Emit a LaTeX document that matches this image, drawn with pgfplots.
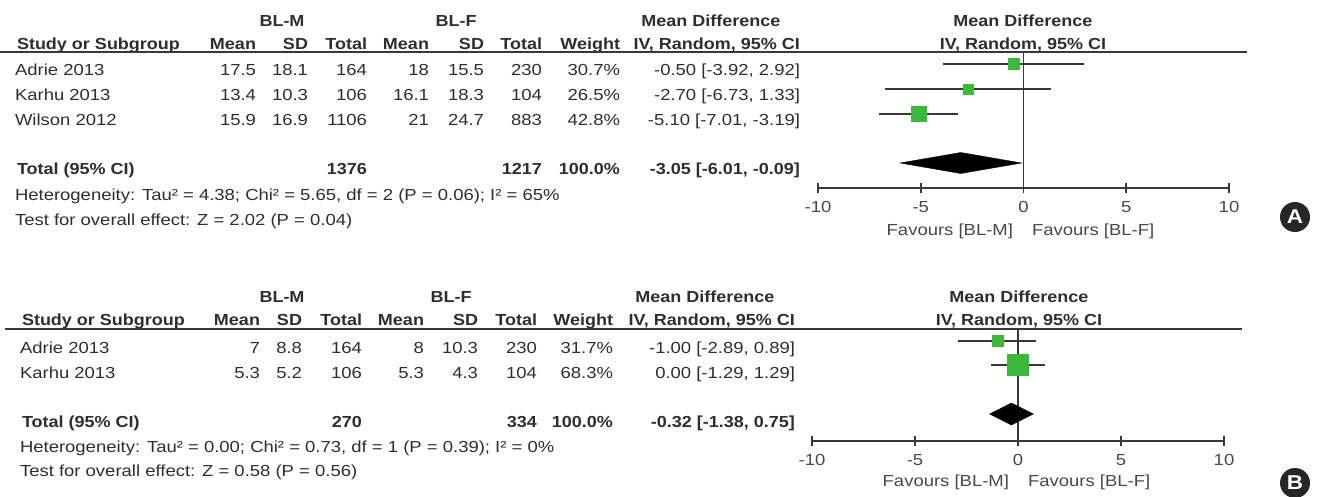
\documentclass[border=0pt]{standalone}
\usepackage{pgfplots}
\pgfplotsset{compat=1.18}
\usepackage{fontspec}
\setmainfont{Liberation Sans}[FakeStretch=1.155, BoldFeatures={FakeStretch=1.125}]
\definecolor{txt}{HTML}{2E2E2E}
\definecolor{labc}{HTML}{484848}
\definecolor{axc}{HTML}{383838}
\definecolor{grn}{HTML}{3CB93C}
\newcommand\tf{\fontsize{16}{19}\selectfont}
\tikzset{t/.style={inner sep=0pt, outer sep=0pt, text=txt, font=\tf},
  cil/.style={draw=axc, line width=1.6pt, mark=none},
  zl/.style={draw=axc, line width=1.6pt, mark=none},
  sq/.style={only marks, mark=square*, color=grn, mark options={fill=grn, draw=grn}}}
\pgfplotsset{forest/.style={
  anchor=south west, scale only axis, clip=false,
  xmin=-10, xmax=10, ymin=0,
  axis x line*=bottom, axis y line=none, ytick=\empty,
  xtick={-10,-5,0,5,10}, xticklabels={-10,-5,0,5,10},
  xtick align=center, major tick length=10pt,
  x axis line style={line width=1.6pt, draw=axc},
  every tick/.style={line width=1.6pt, draw=axc},
  xticklabel style={font=\tf, text=labc, yshift=-4.5pt},
}}
\begin{document}
\begin{tikzpicture}[x=1pt,y=1pt]
\useasboundingbox (0,0) rectangle (1323,-496);
% ---------------- Panel A ----------------
\node[t,anchor=base] at (282,-26) {\bfseries BL-M};
\node[t,anchor=base] at (456,-26) {\bfseries BL-F};
\node[t,anchor=base] at (711,-26) {\bfseries Mean Difference};
\node[t,anchor=base] at (1023,-26) {\bfseries Mean Difference};
\node[t,anchor=base west] at (17,-49) {\bfseries Study or Subgroup};
\foreach \xx/\vv in {256/Mean,308/SD,367/Total,429/Mean,484/SD,542/Total,620/Weight,800/{IV, Random, 95\% CI}}
  \node[t,anchor=base east] at (\xx,-49) {\bfseries \vv};
\node[t,anchor=base] at (1023,-49) {\bfseries IV, Random, 95\% CI};
\draw[draw=axc, line width=1.6pt] (0,-52) -- (1247,-52);
\node[t,anchor=base west] at (15,-75) {Adrie 2013};
\foreach \xx/\vv in {256/17.5,308/18.1,367/164,429/18,484/15.5,542/230,620/30.7\%,800/{-0.50 [-3.92, 2.92]}}
  \node[t,anchor=base east] at (\xx,-75) {\vv};
\node[t,anchor=base west] at (15,-100) {Karhu 2013};
\foreach \xx/\vv in {256/13.4,308/10.3,367/106,429/16.1,484/18.3,542/104,620/26.5\%,800/{-2.70 [-6.73, 1.33]}}
  \node[t,anchor=base east] at (\xx,-100) {\vv};
\node[t,anchor=base west] at (15,-125) {Wilson 2012};
\foreach \xx/\vv in {256/15.9,308/16.9,367/1106,429/21,484/24.7,542/883,620/42.8\%,800/{-5.10 [-7.01, -3.19]}}
  \node[t,anchor=base east] at (\xx,-125) {\vv};
\node[t,anchor=base west] at (17,-174) {\bfseries Total (95\% CI)};
\foreach \xx/\vv in {367/1376,542/1217,620/100.0\%,800/{-3.05 [-6.01, -0.09]}}
  \node[t,anchor=base east] at (\xx,-174) {\bfseries \vv};
\node[t,anchor=base west] at (15,-200) {Heterogeneity: Tau² = 4.38; Chi² = 5.65, df = 2 (P = 0.06); I² = 65\%};
\node[t,anchor=base west] at (15,-225) {Test for overall effect: Z = 2.02 (P = 0.04)};
\node[t,anchor=base east,text=labc] at (1013,-235) {Favours [BL-M]};
\node[t,anchor=base west,text=labc] at (1032,-235) {Favours [BL-F]};
\begin{axis}[forest, at={(818pt,-188pt)}, width=411pt, height=136pt, ymax=136]
\addplot[zl] coordinates {(0,0) (0,136)};
\addplot[cil] coordinates {(-3.92,124) (2.92,124)};
\addplot[cil] coordinates {(-6.73,99) (1.33,99)};
\addplot[cil] coordinates {(-7.01,74) (-3.19,74)};
\addplot[sq, mark size=5.5pt] coordinates {(-0.50,124)};
\addplot[sq, mark size=5pt] coordinates {(-2.70,99)};
\addplot[sq, mark size=7.5pt] coordinates {(-5.10,74)};
\addplot[fill=black, draw=black, mark=none] coordinates {(-6.01,25) (-3.05,35.5) (-0.09,25) (-3.05,14.5) (-6.01,25)};
\end{axis}
\node[circle, fill=black!85, minimum size=30pt, inner sep=0pt, text=white, font=\fontsize{20}{20}\selectfont\bfseries] at (1295,-217) {A};
% ---------------- Panel B ----------------
\node[t,anchor=base] at (282,-302) {\bfseries BL-M};
\node[t,anchor=base] at (451,-302) {\bfseries BL-F};
\node[t,anchor=base] at (705,-302) {\bfseries Mean Difference};
\node[t,anchor=base] at (1019,-302) {\bfseries Mean Difference};
\node[t,anchor=base west] at (22,-325) {\bfseries Study or Subgroup};
\foreach \xx/\vv in {260/Mean,302/SD,362/Total,424/Mean,478/SD,537/Total,613/Weight,795/{IV, Random, 95\% CI}}
  \node[t,anchor=base east] at (\xx,-325) {\bfseries \vv};
\node[t,anchor=base] at (1019,-325) {\bfseries IV, Random, 95\% CI};
\draw[draw=axc, line width=1.6pt] (5,-329) -- (1242,-329);
\node[t,anchor=base west] at (20,-353) {Adrie 2013};
\foreach \xx/\vv in {260/7,302/8.8,362/164,424/8,478/10.3,537/230,613/31.7\%,795/{-1.00 [-2.89, 0.89]}}
  \node[t,anchor=base east] at (\xx,-353) {\vv};
\node[t,anchor=base west] at (20,-378) {Karhu 2013};
\foreach \xx/\vv in {260/5.3,302/5.2,362/106,424/5.3,478/4.3,537/104,613/68.3\%,795/{0.00 [-1.29, 1.29]}}
  \node[t,anchor=base east] at (\xx,-378) {\vv};
\node[t,anchor=base west] at (22,-427) {\bfseries Total (95\% CI)};
\foreach \xx/\vv in {362/270,537/334,613/100.0\%,795/{-0.32 [-1.38, 0.75]}}
  \node[t,anchor=base east] at (\xx,-427) {\bfseries \vv};
\node[t,anchor=base west] at (20,-452) {Heterogeneity: Tau² = 0.00; Chi² = 0.73, df = 1 (P = 0.39); I² = 0\%};
\node[t,anchor=base west] at (20,-476) {Test for overall effect: Z = 0.58 (P = 0.56)};
\node[t,anchor=base east,text=labc] at (1009,-486) {Favours [BL-M]};
\node[t,anchor=base west,text=labc] at (1028,-486) {Favours [BL-F]};
\begin{axis}[forest, at={(812pt,-441pt)}, width=412pt, height=112pt, ymax=112]
\addplot[zl] coordinates {(0,0) (0,112)};
\addplot[cil] coordinates {(-2.89,100) (0.89,100)};
\addplot[cil] coordinates {(-1.29,76) (1.29,76)};
\addplot[sq, mark size=5.5pt] coordinates {(-1.00,100)};
\addplot[sq, mark size=10.5pt] coordinates {(0.00,76)};
\addplot[fill=black, draw=black, mark=none] coordinates {(-1.38,27) (-0.32,38) (0.75,27) (-0.32,16) (-1.38,27)};
\end{axis}
\node[circle, fill=black!85, minimum size=30pt, inner sep=0pt, text=white, font=\fontsize{20}{20}\selectfont\bfseries] at (1295,-483) {B};
\end{tikzpicture}
\end{document}
